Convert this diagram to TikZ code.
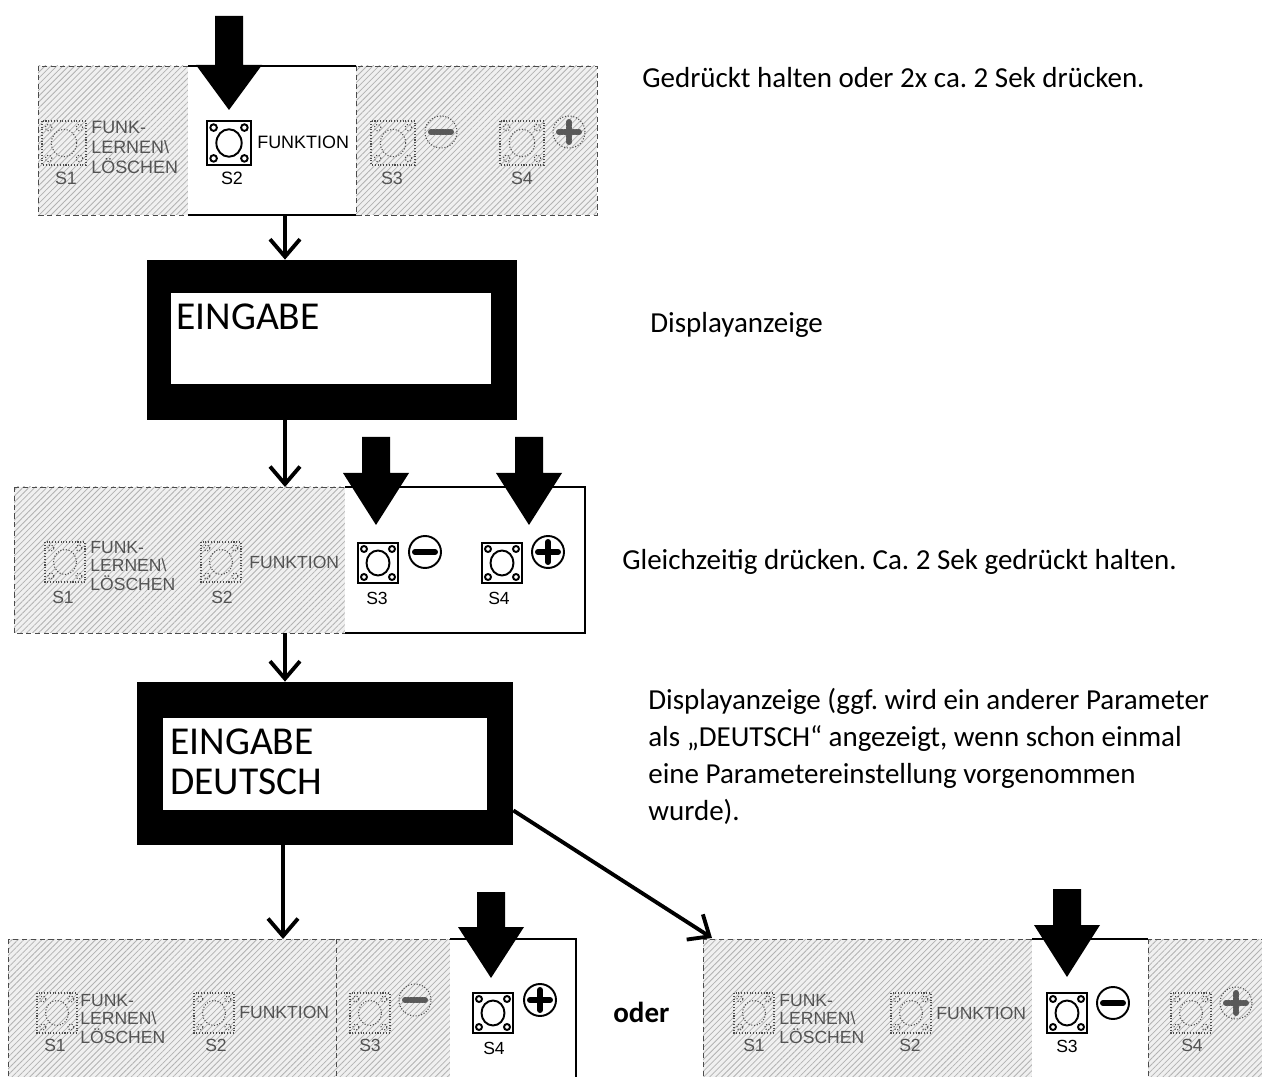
\documentclass[tikz,border=0pt]{standalone}
\usepackage{fontspec}
\setmainfont{Carlito}
\newfontfamily\tastfont{Liberation Sans}
\usetikzlibrary{arrows.meta,patterns.meta}
\frenchspacing

% --- pics for the keys --------------------------------------
\tikzset{
  pics/taster/.style={code={
    \draw[pic actions] (-20,-20) rectangle (20,20);
    \draw[pic actions] (0,0) circle[x radius=0.23cm,y radius=0.25cm];
    \foreach \dx/\dy in {-14/-14,14/-14,-14/14,14/14}
      \draw[pic actions] (\dx,\dy) circle[radius=0.06cm];
  }},
  pics/minusknopf/.style={code={
    \draw[pic actions] (0,0) circle[radius=0.32cm];
    \draw[line width=0.12cm,line cap=round,#1] (-10,0) -- (10,0);
  }},
  pics/plusknopf/.style={code={
    \draw[pic actions] (0,0) circle[radius=0.32cm];
    \draw[line width=0.12cm,line cap=round,#1] (-10,0) -- (10,0) (0,-10) -- (0,10);
  }},
}

% block arrow: x, y top, y head, y tip
\newcommand{\druckpfeil}[4]{%
  \fill (#1-14,#2) -- (#1+14,#2) -- (#1+14,#3) -- (#1+33,#3) -- (#1,#4)
        -- (#1-33,#3) -- (#1-14,#3) -- cycle;}

\begin{document}
\begin{tikzpicture}[x=0.02cm,y=-0.02cm]
% --- styles --------------------------------------------------
\tikzstyle{schraffur}=[draw=gray!60!black,densely dashed,line width=0.5pt,
  preaction={fill=gray!12},pattern={Lines[angle=45,distance=2.4pt,line width=0.45pt]},
  pattern color=gray!60]
\tikzstyle{kante}=[line width=0.7pt]
\tikzstyle{aus}=[draw=gray!60!black,densely dotted,line width=0.6pt]
\tikzstyle{an}=[draw=black,line width=1.1pt]
\tikzstyle{beschr}=[font=\tastfont\fontsize{10}{10.4}\selectfont,inner sep=0pt,align=left]
\tikzstyle{grautext}=[beschr,text=gray!65!black]
\tikzstyle{gross}=[font=\tastfont\fontsize{10.2}{11.4}\selectfont]
\tikzstyle{anzeige}=[fill=black,inner sep=0pt]
\tikzstyle{anzeigetext}=[font=\fontsize{22.5}{23.3}\selectfont,inner sep=0pt,align=left,anchor=base west]
\tikzstyle{hinweis}=[font=\fontsize{16.5}{21.2}\selectfont,inner sep=0pt,align=left,anchor=base west]
\tikzstyle{pfeil}=[line width=2.2pt,-{Straight Barb[length=3.5mm,width=6mm]}]

\useasboundingbox (0,0) rectangle (1262,1077);

% --- panel 1: S2 -------------------------------------------
\draw[schraffur] (38,66) rectangle (188,215);
\fill[white] (188,66) rectangle (356,215);
\draw[kante] (188,66) -- (356,66) (188,215) -- (356,215);
\draw[schraffur] (356,66) rectangle (597,215);
\coordinate (f1unten) at (285,215);

\pic[aus,scale=1.1] at (64,143) {taster};
\node[grautext,gross] (f1s1) at (66,178) {S1};
\node[grautext,gross,anchor=west] (f1lern) at (91,147) {FUNK-\\LERNEN\textbackslash\\LÖSCHEN};
\pic[an,scale=1.1] at (229,143) {taster};
\node[beschr,gross] (f1s2) at (232,178) {S2};
\node[beschr,gross,anchor=west] (f1funk) at (257,142) {FUNKTION};
\pic[aus,scale=1.1] at (393,143) {taster};
\node[grautext,gross] (f1s3) at (392,178) {S3};
\pic[aus] at (441,132) {minusknopf=gray!70!black};
\pic[aus,scale=1.1] at (522,143) {taster};
\node[grautext,gross] (f1s4) at (522,178) {S4};
\pic[aus] at (569,132) {plusknopf=gray!70!black};
\druckpfeil{229}{16}{65}{110}

\node[hinweis] (h1) at (642,88) {Gedrückt halten oder 2x ca. 2 Sek drücken.};

% --- display 1 ----------------------------------------------
\node[anzeige,minimum width=7.4cm,minimum height=3.2cm] (disp1) at (332,340) {};
\fill[white] (171,293) rectangle (491,384);
\node[anzeigetext] (a1) at (176,330) {EINGABE};
\node[hinweis] (h2) at (650,333) {Displayanzeige};

% --- panel 2: S3 + S4 --------------------------------------
\draw[schraffur] (14,487) rectangle (345,633);
\fill[white] (345,487) rectangle (585,633);
\draw[kante] (345,487) -- (585,487) -- (585,633) -- (345,633);
\coordinate (f2oben) at (285,487);
\coordinate (f2unten) at (285,633);

\pic[aus] at (65,562) {taster};
\node[grautext] (f2s1) at (63,597) {S1};
\node[grautext,anchor=west] (f2lern) at (90,566) {FUNK-\\LERNEN\textbackslash\\LÖSCHEN};
\pic[aus] at (221,562) {taster};
\node[grautext] (f2s2) at (222,597) {S2};
\node[grautext,anchor=west] (f2funk) at (249,562) {FUNKTION};
\pic[an] at (378,563) {taster};
\node[beschr] (f2s3) at (377,598) {S3};
\pic[an] at (425,552) {minusknopf=black};
\pic[an] at (502,563) {taster};
\node[beschr] (f2s4) at (499,598) {S4};
\pic[an] at (548,552) {plusknopf=black};
\druckpfeil{376}{437}{473}{525}
\druckpfeil{529}{437}{473}{525}

\node[hinweis] (h3) at (622,570) {Gleichzeitig drücken. Ca. 2 Sek gedrückt halten.};

% --- display 2 ----------------------------------------------
\node[anzeige,minimum width=7.52cm,minimum height=3.26cm] (disp2) at (325,763.5) {};
\fill[white] (163,718) rectangle (487,810);
\node[anzeigetext] (a2) at (170,795) {EINGABE\\DEUTSCH};
\node[hinweis] (h4) at (648,821) {Displayanzeige (ggf. wird ein anderer Parameter\\
  als „DEUTSCH“ angezeigt, wenn schon einmal\\
  eine Parametereinstellung vorgenommen\\
  wurde).};

% --- panel 3: S4 -------------------------------------------
\draw[schraffur] (8,939) rectangle (336,1095);
\draw[schraffur] (336,939) rectangle (450,1095);
\fill[white] (450,939) rectangle (576,1095);
\draw[kante] (450,939) -- (576,939) -- (576,1095);
\coordinate (f3oben) at (283,939);

\pic[aus] at (57,1013) {taster};
\node[grautext] (f3s1) at (55,1045) {S1};
\node[grautext,anchor=west] (f3lern) at (80,1019) {FUNK-\\LERNEN\textbackslash\\LÖSCHEN};
\pic[aus] at (214,1013) {taster};
\node[grautext] (f3s2) at (216,1045) {S2};
\node[grautext,anchor=west] (f3funk) at (239,1012) {FUNKTION};
\pic[aus] at (370,1013) {taster};
\node[grautext] (f3s3) at (370,1045) {S3};
\pic[aus] at (415,1000) {minusknopf=gray!70!black};
\pic[an] at (493,1013) {taster};
\node[beschr] (f3s4) at (494,1048) {S4};
\pic[an] at (540,1000) {plusknopf=black};
\druckpfeil{491}{892}{927}{978}

\node[hinweis,font=\bfseries\fontsize{16.5}{20.5}\selectfont] (oder) at (613,1022) {oder};

% --- panel 4: S3 -------------------------------------------
\draw[schraffur] (703,939) rectangle (1032,1095);
\fill[white] (1032,939) rectangle (1148,1095);
\draw[kante] (1032,939) -- (1148,939);
\draw[schraffur] (1148,939) rectangle (1275,1095);
\coordinate (f4ecke) at (712,938);

\pic[aus] at (754,1013) {taster};
\node[grautext] (f4s1) at (754,1045) {S1};
\node[grautext,anchor=west] (f4lern) at (779,1019) {FUNK-\\LERNEN\textbackslash\\LÖSCHEN};
\pic[aus] at (911,1013) {taster};
\node[grautext] (f4s2) at (910,1045) {S2};
\node[grautext,anchor=west] (f4funk) at (936,1013) {FUNKTION};
\pic[an] at (1067,1013) {taster};
\node[beschr] (f4s3) at (1067,1046) {S3};
\pic[an] at (1113,1003) {minusknopf=black};
\pic[aus] at (1191,1013) {taster};
\node[grautext] (f4s4) at (1192,1045) {S4};
\pic[aus] at (1236,1003) {plusknopf=gray!70!black};
\druckpfeil{1067}{889}{925}{977}

% --- connecting arrows -------------------------------------
\draw[pfeil] (f1unten) -- (f1unten |- disp1.north);
\draw[pfeil] (f1unten |- disp1.south) -- (f2oben);
\draw[pfeil] (f2unten) -- (f2unten |- disp2.north);
\draw[pfeil] (f3oben |- disp2.south) -- (f3oben);
\draw[pfeil] (disp2.-14.5) -- (f4ecke);

\end{tikzpicture}
\end{document}
